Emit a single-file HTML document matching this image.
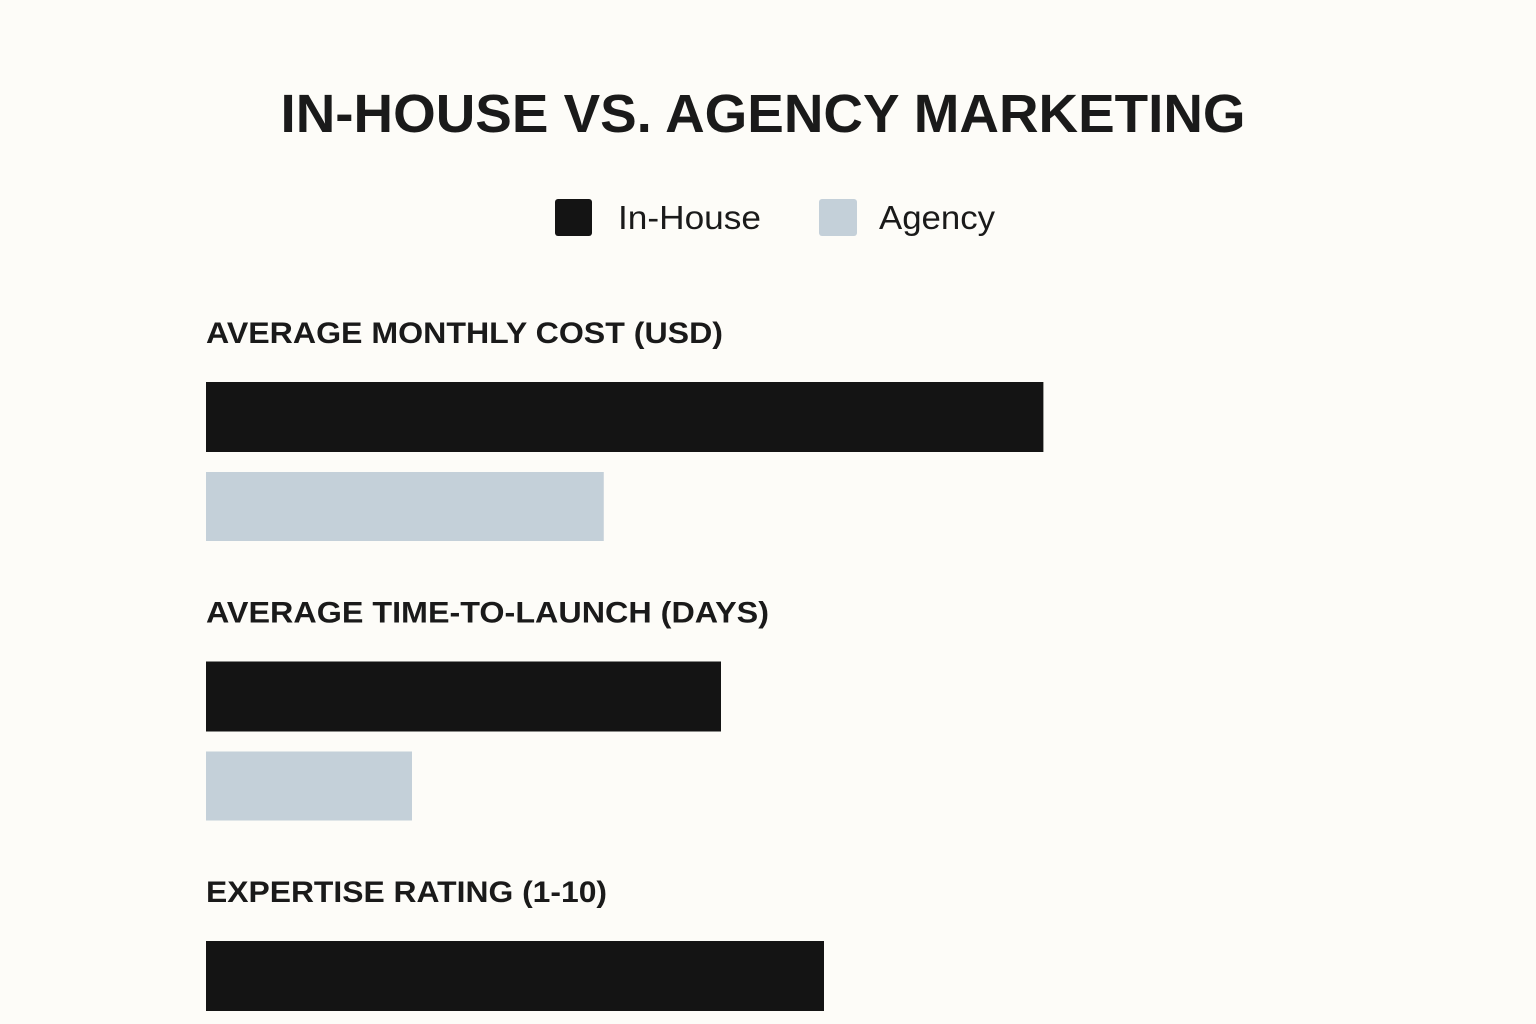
<!DOCTYPE html>
<html><head><meta charset="utf-8"><style>
html,body{margin:0;padding:0;background:#fdfcf8;}
svg{display:block;font-family:"Liberation Sans",sans-serif;}
</style></head><body>
<svg id="chart" width="1536" height="1024" viewBox="0 0 1536 1024">
<rect x="0" y="0" width="1536" height="1024" fill="#fdfcf8"/>
<text x="763" y="132" text-anchor="middle" font-size="54" font-weight="bold" fill="#1a1a1a" textLength="965" lengthAdjust="spacingAndGlyphs">IN-HOUSE VS. AGENCY MARKETING</text>
<g>
<rect x="555" y="199" width="37" height="37" rx="3" fill="#141414"/>
<text x="618" y="229" font-size="33" fill="#1a1a1a" textLength="143" lengthAdjust="spacingAndGlyphs">In-House</text>
<rect x="819" y="199" width="38" height="37" rx="3" fill="#c4d0d9"/>
<text x="879" y="229" font-size="33" fill="#1a1a1a" textLength="116" lengthAdjust="spacingAndGlyphs">Agency</text>
</g>
<g id="plot"></g>
</svg>
<script>
const metrics = ["AVERAGE MONTHLY COST (USD)", "AVERAGE TIME-TO-LAUNCH (DAYS)", "EXPERTISE RATING (1-10)"];
const inHouse = [10000, 60, 6];
const agency = [4750, 24, null];
const domainMax = [12300, 120, 10];
const labelWidths = [517, 563, 401];

const NS = "http://www.w3.org/2000/svg";
const plot = document.getElementById('plot');
const x0 = 206, plotW = 1030;
function xScale(i, v){ return plotW * v / domainMax[i]; }
function mk(tag, attrs){ const e=document.createElementNS(NS,tag); for(const k in attrs) e.setAttribute(k,attrs[k]); return e; }
metrics.forEach((m,i)=>{
  const top = 330 + i*279.5;
  const t = mk('text',{x:x0,y:top+13,'font-size':30,'font-weight':'bold',fill:'#1a1a1a',textLength:labelWidths[i],lengthAdjust:'spacingAndGlyphs'});
  
  
  t.textContent = m;
  plot.appendChild(t);
  if(inHouse[i]!=null){
    const b = mk('rect',{x:x0,y:top+52,width:xScale(i,inHouse[i]),height:70,fill:'#141414'});
    
    
    plot.appendChild(b);
  }
  if(agency[i]!=null){
    const b = mk('rect',{x:x0,y:top+142,width:xScale(i,agency[i]),height:69,fill:'#c4d0d9'});
    
    
    plot.appendChild(b);
  }
});
</script>
</body></html>
